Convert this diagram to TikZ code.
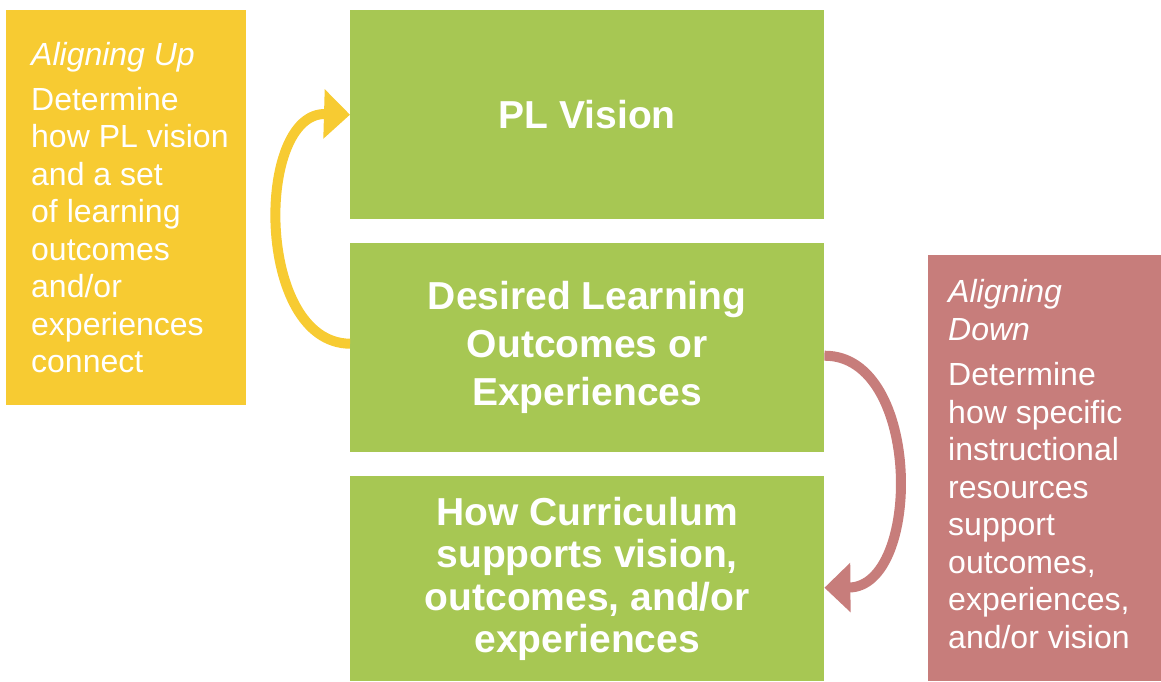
\documentclass[tikz,border=0pt]{standalone}
\usepackage{fontspec}
\setmainfont{Liberation Sans}
\usetikzlibrary{positioning,arrows.meta}
\definecolor{upyellow}{HTML}{F7CB32}
\definecolor{stagegreen}{HTML}{A7C753}
\definecolor{downpink}{HTML}{C77D7B}

\begin{document}
\begin{tikzpicture}[x=1pt,y=-1pt,
  stage/.style={fill=stagegreen,text=white,anchor=north west,inner sep=0pt,
    minimum width=474pt,align=center,font=\fontsize{39}{48}\selectfont\bfseries},
  sidebox/.style={anchor=north west,inner sep=0pt},
  note/.style={text=white,align=left,inner sep=0pt,font=\fontsize{32}{37.5}\selectfont},
  loop/.style={line width=10pt,-{Triangle[length=26pt,width=48pt]}}]
\useasboundingbox (0,0) rectangle (1161,681);

% The three stages
\node[stage,minimum height=209pt] (vision) at (350,10) {PL Vision};
\node[stage,minimum height=209pt] (outcomes) at (350,243)
  {Desired Learning\\Outcomes or\\Experiences};
\node[stage,minimum height=205pt,font=\fontsize{39}{42.5}\selectfont\bfseries]
  (curriculum) at (350,476)
  {How Curriculum\\supports vision,\\outcomes, and/or\\experiences};

% Aligning up
\node[sidebox,fill=upyellow,minimum width=240pt,minimum height=395pt] (up) at (6,10) {};
\node[note,right=25pt of up.west] (uptext) {\textit{Aligning Up}\\[7pt]
  Determine\\how PL vision\\and a set\\of learning\\outcomes\\and/or\\experiences\\connect};

% Aligning down
\node[sidebox,fill=downpink,minimum width=233pt,minimum height=426pt] (down) at (928,255) {};
\node[note,right=20pt of down.west,yshift=4pt] (downtext) {\textit{Aligning}\\\textit{Down}\\[8pt]
  Determine\\how specific\\instructional\\resources\\support\\outcomes,\\experiences,\\and/or vision};

% Loops
\draw[loop,upyellow] ([yshift=4pt]outcomes.west) .. controls (255,343) and (255,112) .. (vision.west);
\draw[loop,downpink] ([yshift=-8pt]outcomes.east) .. controls (922,355) and (922,587)
  .. ([yshift=-9pt]curriculum.east);
\end{tikzpicture}
\end{document}
